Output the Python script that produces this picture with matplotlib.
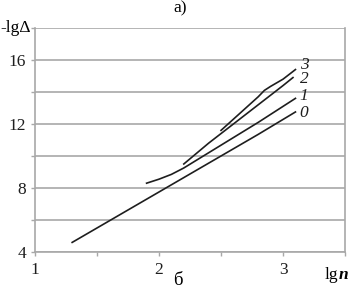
import matplotlib
matplotlib.use("Agg")
import matplotlib.pyplot as plt

# curve data: lg n vs -lg(Delta)
x0 = [1.30, 1.60, 1.90, 2.20, 2.50, 2.80, 3.10]
y0 = [4.60, 5.95, 7.30, 8.65, 10.00, 11.35, 12.75]
x1 = [1.90, 2.00, 2.10, 2.20, 2.40, 2.60, 2.80, 3.00, 3.10]
y1 = [8.30, 8.55, 8.85, 9.25, 10.20, 11.15, 12.10, 13.10, 13.60]
x2 = [2.20, 2.40, 2.60, 2.80, 3.00, 3.08]
y2 = [9.50, 10.80, 12.00, 13.20, 14.40, 14.90]
x3 = [2.50, 2.60, 2.70, 2.80, 2.85, 2.90, 3.00, 3.10]
y3 = [11.60, 12.30, 13.00, 13.70, 14.10, 14.35, 14.80, 15.40]
curve_labels = ["0", "1", "2", "3"]

yticks = [4, 6, 8, 10, 12, 14, 16, 18]
ytick_labels = ["4", "", "8", "", "12", "", "16", ""]
xticks = [1, 1.5, 2, 2.5, 3, 3.5]
xtick_labels = ["1", "", "2", "", "3", ""]

GRID = "#a8a8a8"
INK = "#1e1e1e"
FS = 12.5
plt.rcParams.update({"font.family": "Liberation Serif", "font.size": FS})

fig = plt.figure(figsize=(3.64, 2.91), dpi=100)
ax = fig.add_axes([0.096, 0.134, 0.852, 0.770])

for xs, ys in [(x0, y0), (x1, y1), (x2, y2), (x3, y3)]:
    ax.plot(xs, ys, color=INK, lw=1.2, zorder=3)

# curve numbers at the right ends
label_pos = [(3.13, 12.7), (3.13, 13.75), (3.14, 14.8), (3.14, 15.7)]
for lbl, (lx, ly) in zip(curve_labels, label_pos):
    ax.text(lx, ly, lbl, style="italic", fontsize=FS, va="center", ha="left", color=INK)

ax.set_xlim(1, 3.5)
ax.set_ylim(4, 18)
ax.set_yticks(yticks)
ax.set_yticklabels(ytick_labels)
ax.set_xticks(xticks)
ax.set_xticklabels(xtick_labels)
ax.tick_params(axis="both", length=3, width=1, color=GRID, colors=INK, labelsize=FS)
ax.tick_params(axis="x", pad=4)
ax.grid(axis="y", color=GRID, lw=1.2)
ax.set_axisbelow(True)
for s in ["left", "bottom", "right"]:
    ax.spines[s].set_color(GRID)
    ax.spines[s].set_linewidth(1.2)
ax.spines["top"].set_visible(False)

ax.text(-0.012, 18, "-lgΔ", ha="right", va="center", fontsize=FS,
        transform=ax.get_yaxis_transform())
ax.text(3.39, -0.065, "lg", ha="center", va="top", fontsize=FS,
        transform=ax.get_xaxis_transform())
ax.text(3.445, -0.065, "n", ha="left", va="top", fontsize=FS, style="italic",
        fontweight="bold", transform=ax.get_xaxis_transform())

fig.text(0.495, 0.972, "а)", ha="center", va="center", fontsize=FS)
fig.text(0.49, 0.036, "б", ha="center", va="center", fontsize=FS + 1)

fig.savefig("out.png", dpi=100)
